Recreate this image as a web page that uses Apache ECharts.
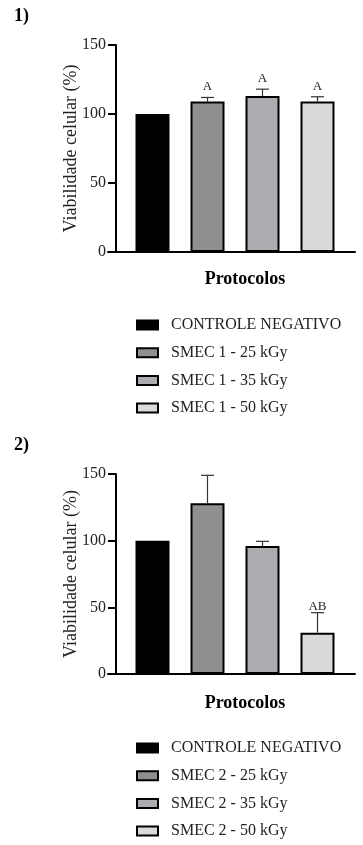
<!DOCTYPE html>
<html>
<head>
<meta charset="utf-8">
<script src="https://cdn.jsdelivr.net/npm/echarts@6/dist/echarts.min.js"></script>
<style>
html,body{margin:0;padding:0;background:#fff;}
#main{width:363px;height:845px;}
</style>
</head>
<body>
<div id="main"></div>
<script>
const categories1 = ['CONTROLE NEGATIVO', 'SMEC 1 - 25 kGy', 'SMEC 1 - 35 kGy', 'SMEC 1 - 50 kGy'];
const categories2 = ['CONTROLE NEGATIVO', 'SMEC 2 - 25 kGy', 'SMEC 2 - 35 kGy', 'SMEC 2 - 50 kGy'];
const values1 = [100, 109, 113, 109];
const errors1 = [0, 3, 5, 3.5];
const sig1 = ['', 'A', 'A', 'A'];
const values2 = [100, 128, 96, 31];
const errors2 = [0, 21, 3.5, 15];
const sig2 = ['', '', '', 'AB'];
const yTicks = [0, 50, 100, 150];
const barColors = ['#000000', '#8f8f8f', '#adadb1', '#dadada'];

const SERIF = '"Liberation Serif", "DejaVu Serif", serif';
const chart = echarts.init(document.getElementById('main'), null, {renderer: 'canvas'});

const grids = [
  {left: 125, right: 18, top: 45, bottom: 845 - 252},
  {left: 108, right: 8, top: 45, bottom: 845 - 252},
  {left: 125, right: 18, top: 474, bottom: 845 - 674},
  {left: 108, right: 8, top: 474, bottom: 845 - 674}
];

function catAxis(gi, cats) {
  return {type: 'category', gridIndex: gi, data: cats, boundaryGap: true,
    axisLine: {show: false}, axisTick: {show: false}, axisLabel: {show: false}};
}
function lineAxis(gi) {
  return {type: 'value', gridIndex: gi, min: 0, max: 1, splitLine: {show: false},
    axisLine: {show: true, lineStyle: {color: '#000', width: 2}},
    axisTick: {show: false}, axisLabel: {show: false}};
}
function valAxis(gi) {
  return {type: 'value', gridIndex: gi, min: yTicks[0], max: yTicks[yTicks.length - 1],
    interval: yTicks[1] - yTicks[0], offset: 9,
    name: 'Viabilidade celular (%)', nameLocation: 'middle', nameGap: 36, nameMoveOverlap: false,
    nameTextStyle: {fontFamily: SERIF, fontSize: 18, color: '#222'},
    splitLine: {show: false},
    axisLine: {show: true, lineStyle: {color: '#000', width: 2}},
    axisTick: {show: true, length: 8, lineStyle: {color: '#000', width: 2}},
    axisLabel: {margin: 10, fontFamily: SERIF, fontSize: 16, color: '#222',
      formatter: v => yTicks.includes(v) ? String(v) : ''}};
}
function hiddenY(gi) {
  return {type: 'value', gridIndex: gi, min: 0, max: 1, show: false};
}

function barSeries(cats, values, axisIdx, stackName) {
  return cats.map((name, i) => ({
    type: 'bar', name: name, xAxisIndex: axisIdx, yAxisIndex: axisIdx,
    stack: stackName, barWidth: 34,
    data: values.map((v, j) => j === i ? v : '-'),
    itemStyle: {color: barColors[i], borderColor: '#000', borderWidth: 2},
    emphasis: {disabled: true}, silent: true
  }));
}

function errSeries(values, errors, sig, axisIdx, gap) {
  return {
    type: 'custom', xAxisIndex: axisIdx, yAxisIndex: axisIdx, z: 10, silent: true,
    data: values.map((v, i) => [i, v, errors[i]]),
    renderItem: function (params, api) {
      const i = api.value(0), v = api.value(1), e = api.value(2);
      const s = sig[params.dataIndex];
      const base = api.coord([i, v]);
      const top = api.coord([i, v + e]);
      const children = [];
      if (e > 0) {
        children.push({type: 'line', shape: {x1: base[0], y1: base[1], x2: top[0], y2: top[1]},
          style: {stroke: '#333', lineWidth: 1.2}});
        children.push({type: 'line', shape: {x1: top[0] - 6.5, y1: top[1], x2: top[0] + 6.5, y2: top[1]},
          style: {stroke: '#333', lineWidth: 1.2}});
      }
      if (s) {
        children.push({type: 'text', x: top[0], y: top[1] - gap,
          style: {text: s, font: '13px ' + SERIF, fill: '#222', align: 'center', verticalAlign: 'bottom'}});
      }
      return {type: 'group', children: children};
    }
  };
}

function legend(cats, top) {
  return {orient: 'vertical', left: 136, top: top, padding: 0, itemWidth: 21, itemHeight: 9, itemGap: 11.7,
    icon: 'rect', selectedMode: false, data: cats,
    textStyle: {fontFamily: SERIF, fontSize: 16, color: '#222', lineHeight: 16, padding: [0, 0, 0, 8]}};
}

const titleStyle = {fontFamily: SERIF, fontSize: 18, fontWeight: 'bold', color: '#000'};
const option = {
  animation: false,
  backgroundColor: '#fff',
  title: [
    {text: '1)', left: 14, top: 7, padding: 0, textStyle: titleStyle},
    {text: 'Protocolos', left: 245, top: 270, padding: 0, textAlign: 'center', textStyle: titleStyle},
    {text: '2)', left: 14, top: 436, padding: 0, textStyle: titleStyle},
    {text: 'Protocolos', left: 245, top: 694, padding: 0, textAlign: 'center', textStyle: titleStyle}
  ],
  grid: grids,
  xAxis: [catAxis(0, categories1), lineAxis(1), catAxis(2, categories2), lineAxis(3)],
  yAxis: [valAxis(0), hiddenY(1), valAxis(2), hiddenY(3)],
  legend: [legend(categories1, 317), legend(categories2, 740)],
  series: [].concat(
    barSeries(categories1, values1, 0, 's1'),
    [errSeries(values1, errors1, sig1, 0, 4)],
    barSeries(categories2, values2, 2, 's2'),
    [errSeries(values2, errors2, sig2, 2, 0)]
  )
};
chart.setOption(option);
</script>
</body>
</html>
